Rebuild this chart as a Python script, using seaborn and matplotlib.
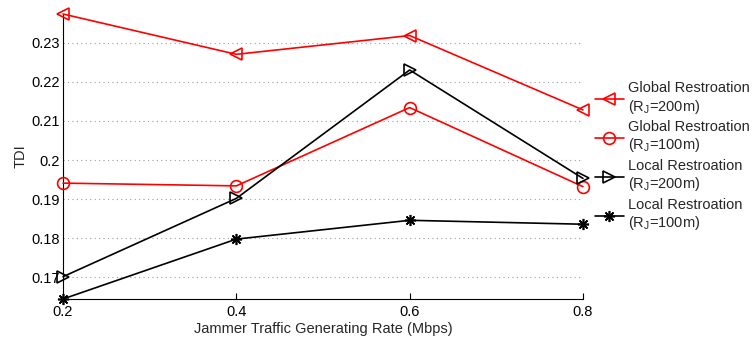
import matplotlib
matplotlib.use("Agg")
import matplotlib.pyplot as plt
import seaborn as sns
import pandas as pd
from matplotlib.ticker import FuncFormatter

# Jammer traffic generating rate (Mbps)
rates = [0.2, 0.4, 0.6, 0.8]

# TDI for each restoration scheme / jamming radius
global_200 = [0.2373, 0.2270, 0.2318, 0.2128]
global_100 = [0.1941, 0.1934, 0.2134, 0.1932]
local_200 = [0.1702, 0.1902, 0.2230, 0.1953]
local_100 = [0.1645, 0.1798, 0.1846, 0.1836]

labels = [
    "Global Restroation\n(R$_\\mathregular{J}$=200m)",
    "Global Restroation\n(R$_\\mathregular{J}$=100m)",
    "Local Restroation\n(R$_\\mathregular{J}$=200m)",
    "Local Restroation\n(R$_\\mathregular{J}$=100m)",
]
series = [global_200, global_100, local_200, local_100]
colors = ["#ff0000", "#ff0000", "#000000", "#000000"]
markers = ["<", "o", ">", (8, 2, 0)]
msizes = [9, 8.5, 9, 8]

y_ticks = [0.17, 0.18, 0.19, 0.20, 0.21, 0.22, 0.23]

FS = 10.5

sns.set_style("white")
plt.rcParams["font.family"] = ["Liberation Sans", "DejaVu Sans"]
plt.rcParams["mathtext.default"] = "regular"

fig = plt.figure(figsize=(7.53, 3.40), dpi=100)
ax = fig.add_axes([0.0837, 0.1206, 0.6905, 0.8382])

for vals, lab, col, mk, ms in zip(series, labels, colors, markers, msizes):
    df = pd.DataFrame({"rate": rates, "tdi": vals})
    sns.lineplot(data=df, x="rate", y="tdi", ax=ax, color=col, marker=mk,
                 markersize=ms, markerfacecolor="none", markeredgecolor=col,
                 markeredgewidth=1.2, linewidth=1.2, label=lab, clip_on=False,
                 zorder=3)

ax.set_xlim(0.2, 0.8)
ax.set_ylim(min(local_100), max(global_200))
ax.set_xticks(rates)
ax.set_yticks(y_ticks)
ax.xaxis.set_major_formatter(FuncFormatter(lambda v, p: f"{v:g}"))
ax.yaxis.set_major_formatter(FuncFormatter(lambda v, p: f"{v:.2f}".rstrip("0")))

ax.grid(axis="y", linestyle=(0, (1, 3)), color="#a0a0a0", linewidth=0.8)
ax.grid(axis="x", visible=False)
for side in ("top", "right"):
    ax.spines[side].set_visible(False)
for side in ("left", "bottom"):
    ax.spines[side].set_color("black")
    ax.spines[side].set_linewidth(0.8)

ax.tick_params(axis="both", direction="in", length=4, width=0.8,
               labelsize=FS, colors="black", pad=2)
ax.tick_params(axis="y", length=0)
ax.tick_params(axis="x", bottom=True, pad=4.5)

ax.set_xlabel("Jammer Traffic Generating Rate (Mbps)", fontsize=FS, labelpad=2)
ax.set_ylabel("TDI", fontsize=FS, labelpad=3)

ax.legend(loc="upper left", bbox_to_anchor=(0.790, 0.762),
          bbox_transform=fig.transFigure, frameon=False, fontsize=FS,
          handlelength=2.0, handletextpad=0.3, labelspacing=0.3,
          borderpad=0, borderaxespad=0)

fig.savefig("out.png", dpi=100)
